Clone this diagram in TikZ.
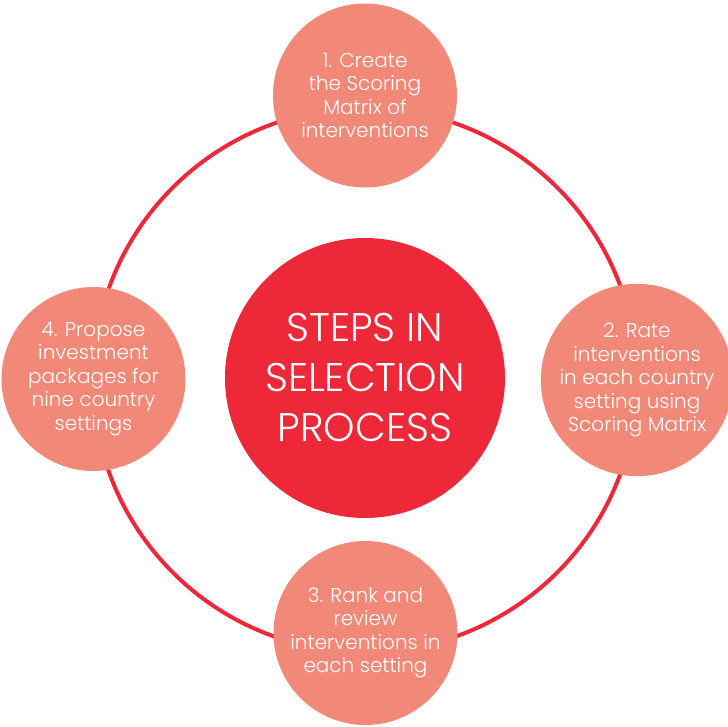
\documentclass[tikz,border=0pt]{standalone}
\usepackage{fontspec}
\setmainfont{Poppins}[UprightFont=* Light]
\usetikzlibrary{positioning}
\definecolor{stepsalmon}{RGB}{242,137,120}
\definecolor{hubred}{RGB}{237,41,57}

\begin{document}
\begin{tikzpicture}
      [x=1pt, y=1pt,
      step style/.style={circle, fill=stepsalmon, draw=none, minimum size=184pt, inner sep=0pt, align=center, text=white, font=\fontsize{20}{23.5}\selectfont},
      hub style/.style={circle, fill=hubred, draw=none, minimum size=280pt, inner sep=0pt, align=center, text=white, font=\fontsize{40}{50}\selectfont},
      ring style/.style={draw=hubred, line width=4pt},
      ]
      \useasboundingbox (-365,-347) rectangle (363,380);

      \node[hub style] (hub) at (0,2) {STEPS IN\\SELECTION\\PROCESS};
      \draw[ring style] (0,0) circle (272);

      \node[step style] (create) at (0,284.5) {1. Create\\the Scoring\\Matrix of\\interventions};
      \node[step style] (rate) at (272,0) {2. Rate\\interventions\\in each country\\setting using\\Scoring Matrix};
      \node[step style] (rank) at (0.5,-253) {3. Rank and\\review\\interventions in\\each setting};
      \node[step style] (propose) at (-271.5,1) {4. Propose\\investment\\packages for\\nine country\\settings};
\end{tikzpicture}
\end{document}
